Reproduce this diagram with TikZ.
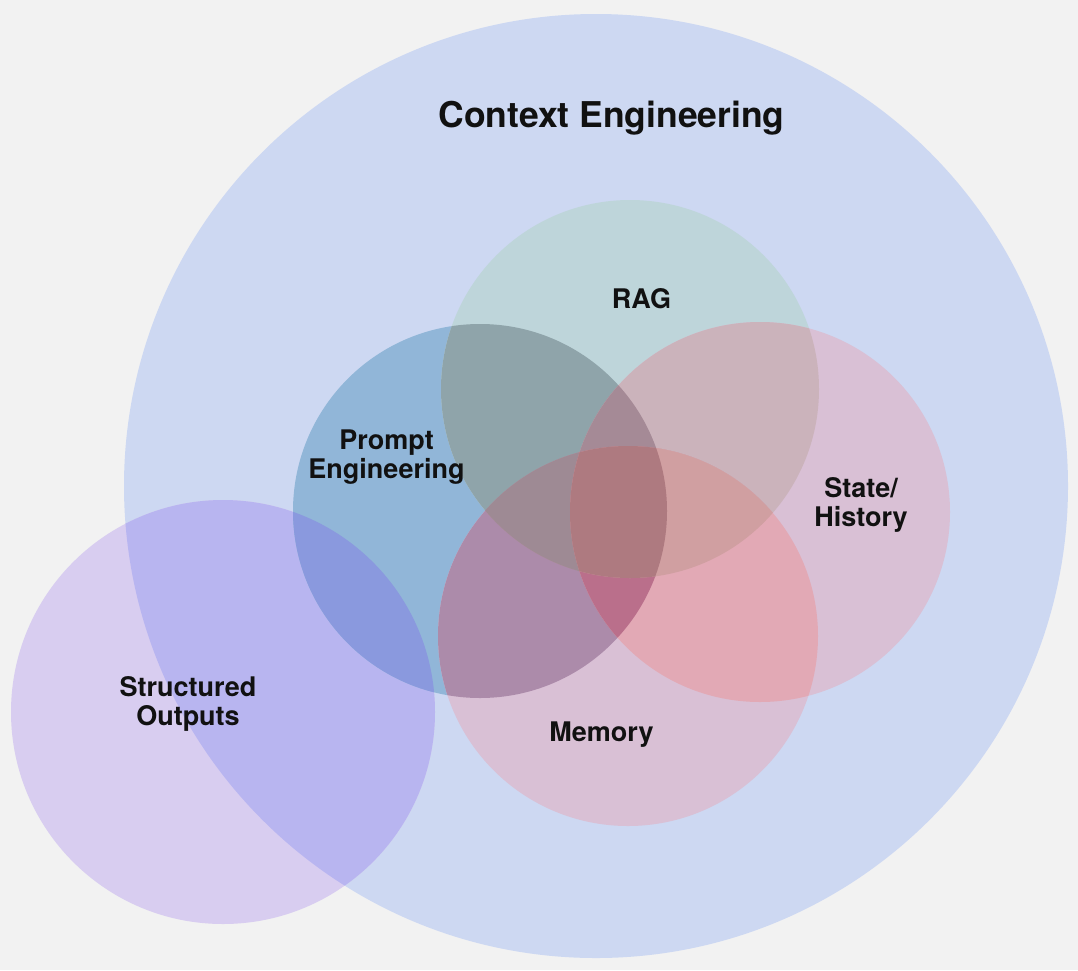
\documentclass[tikz,border=0pt]{standalone}
\usepackage{fontspec}
\setmainfont{TeX Gyre Heros}
\definecolor{cbg}{HTML}{F2F2F2}
\definecolor{ink}{HTML}{111111}
\definecolor{cB}{HTML}{CDD8F2}
\definecolor{cS}{HTML}{D8CDF0}
\definecolor{cSB}{HTML}{B8B5F0}
\definecolor{cSP}{HTML}{8A99DE}
\definecolor{cP}{HTML}{91B6D8}
\definecolor{cR}{HTML}{BED5DA}
\definecolor{cH}{HTML}{D9C0D5}
\definecolor{cM}{HTML}{D9C0D5}
\definecolor{cPR}{HTML}{8FA4AA}
\definecolor{cPM}{HTML}{AC8BAA}
\definecolor{cPH}{HTML}{A88290}
\definecolor{cRH}{HTML}{CBB3BB}
\definecolor{cRM}{HTML}{B89098}
\definecolor{cHM}{HTML}{E2A9B5}
\definecolor{cPRH}{HTML}{A58A96}
\definecolor{cPRM}{HTML}{9E8A94}
\definecolor{cPHM}{HTML}{BA6F8B}
\definecolor{cRHM}{HTML}{D09FA1}
\definecolor{cPRHM}{HTML}{AE7A80}
\begin{document}
\begin{tikzpicture}[x=1pt,y=-1pt,
  lbl/.style={font=\fontsize{27}{28.5}\selectfont\bfseries, text=ink, align=center, inner sep=0pt, anchor=base},
  ttl/.style={font=\fontsize{35.5}{40}\selectfont\bfseries, text=ink, inner sep=0pt, anchor=base}]
\def\cB{(596,486) circle[radius=472pt]}
\def\cS{(223,712) circle[radius=212pt]}
\def\cP{(480,511) circle[radius=187pt]}
\def\cR{(630,389) circle[radius=189pt]}
\def\cH{(760,512) circle[radius=190pt]}
\def\cM{(628,636) circle[radius=190pt]}
\useasboundingbox (0,0) rectangle (1078,970);
\fill[cbg] (0,0) rectangle (1078,970);
% single circles
\fill[cB] \cB;
\fill[cS] \cS;
\begin{scope}\clip \cB; \fill[cSB] \cS; \end{scope}
\fill[cP] \cP;
\fill[cR] \cR;
\fill[cH] \cH;
\fill[cM] \cM;
% pairs
\begin{scope}\clip \cS; \fill[cSP] \cP; \end{scope}
\begin{scope}\clip \cP; \fill[cPR] \cR; \end{scope}
\begin{scope}\clip \cP; \fill[cPM] \cM; \end{scope}
\begin{scope}\clip \cP; \fill[cPH] \cH; \end{scope}
\begin{scope}\clip \cR; \fill[cRH] \cH; \end{scope}
\begin{scope}\clip \cR; \fill[cRM] \cM; \end{scope}
\begin{scope}\clip \cH; \fill[cHM] \cM; \end{scope}
% triples
\begin{scope}\clip \cP; \clip \cR; \fill[cPRH] \cH; \end{scope}
\begin{scope}\clip \cP; \clip \cR; \fill[cPRM] \cM; \end{scope}
\begin{scope}\clip \cP; \clip \cH; \fill[cPHM] \cM; \end{scope}
\begin{scope}\clip \cR; \clip \cH; \fill[cRHM] \cM; \end{scope}
% quadruple
\begin{scope}\clip \cP; \clip \cR; \clip \cH; \fill[cPRHM] \cM; \end{scope}
% labels
\node[ttl] (title) at (611.5,127) {Context Engineering};
\node[lbl] (rag) at (641.5,308) {RAG};
\node[lbl] (prompt) at (386.5,478) {Prompt\\Engineering};
\node[lbl] (state) at (861,526) {State/\\History};
\node[lbl] (memory) at (601.5,741) {Memory};
\node[lbl] (structured) at (188,725) {Structured\\Outputs};
\end{tikzpicture}
\end{document}
